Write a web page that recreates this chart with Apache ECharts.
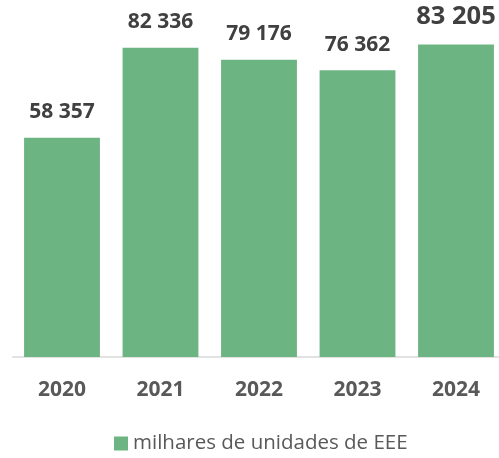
<!DOCTYPE html>
<html>
<head>
<meta charset="utf-8">
<style>
  html, body { margin: 0; padding: 0; background: #ffffff; overflow: hidden; }
  /* drawing surface is a few pixels wider than the window; the last bar is clipped at the edge */
  #chart { width: 506px; height: 458px; }
</style>
<script src="https://cdn.jsdelivr.net/npm/echarts@6/dist/echarts.min.js"></script>
</head>
<body>
<div id="chart"></div>
<script>
// Years on the category axis
const years = ['2020', '2021', '2022', '2023', '2024'];
// Thousands of EEE units placed on the market per year
const units = [58357, 82336, 79176, 76362, 83205];
const seriesName = 'milhares de unidades de EEE';

const fmt = v => String(v).replace(/\B(?=(\d{3})+(?!\d))/g, ' ');

const chart = echarts.init(document.getElementById('chart'));
chart.setOption({
  animation: false,
  textStyle: { fontFamily: 'Open Sans' },
  grid: { left: 12.75, right: 0.75, top: 19, bottom: 101 },
  legend: {
    top: 428,
    left: 109,
    itemWidth: 14,
    itemHeight: 14,
    itemGap: 6,
    icon: 'rect',
    textStyle: { color: '#595959', fontSize: 20.5, fontFamily: 'Open Sans' },
    data: [seriesName]
  },
  xAxis: {
    type: 'category',
    data: years,
    axisTick: { show: false },
    axisLine: { lineStyle: { color: '#d9d9d9', width: 1.5 } },
    axisLabel: { color: '#595959', fontSize: 21, fontWeight: 'bold', margin: 23 }
  },
  yAxis: {
    type: 'value',
    min: 0,
    max: 90000,
    show: false,
    splitLine: { show: false }
  },
  series: [{
    name: seriesName,
    type: 'bar',
    data: units.map((v, i) => ({
      value: v,
      label: i === units.length - 1 ? { fontSize: 25.5, distance: 15 } : undefined
    })),
    barWidth: '77%',
    itemStyle: { color: '#6db483' },
    label: {
      show: true,
      position: 'top',
      distance: 15,
      color: '#404040',
      fontSize: 21,
      fontWeight: 'bold',
      formatter: p => fmt(p.value)
    }
  }]
});
</script>
</body>
</html>
